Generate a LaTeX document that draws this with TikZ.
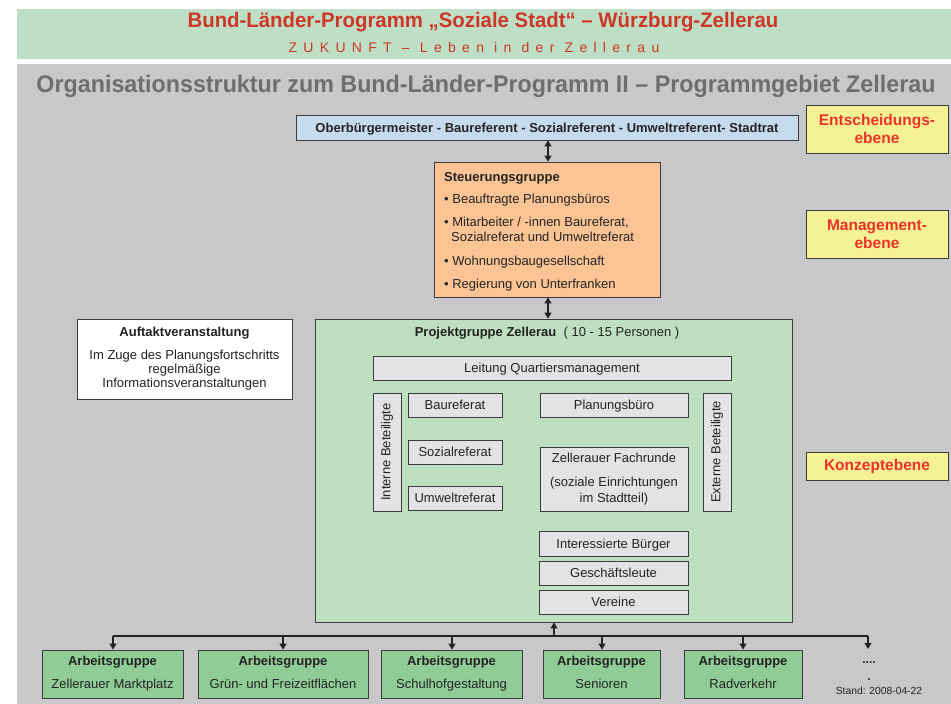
\documentclass[tikz,border=0pt]{standalone}
\usepackage{fontspec}
\setmainfont{Liberation Sans}
\newfontfamily\spacedfont[LetterSpace=45]{Liberation Sans}
\usetikzlibrary{arrows.meta}
\definecolor{bandgreen}{RGB}{190,222,197}
\definecolor{bggray}{RGB}{200,200,202}
\definecolor{titlegray}{RGB}{110,110,112}
\definecolor{titlered}{RGB}{205,55,40}
\definecolor{levelred}{RGB}{238,50,40}
\definecolor{blue1}{RGB}{198,219,238}
\definecolor{orange1}{RGB}{252,196,148}
\definecolor{yellow1}{RGB}{245,242,150}
\definecolor{projgreen}{RGB}{190,224,192}
\definecolor{innergray}{RGB}{226,227,228}
\definecolor{aggreen}{RGB}{144,205,150}
\definecolor{bd}{RGB}{60,60,60}
\definecolor{txt}{RGB}{35,35,35}
\begin{document}
\begin{tikzpicture}[x=1pt,y=-1pt,
  bx/.style={draw=bd, line width=0.9pt, inner sep=0pt, align=center, text=txt},
  lvl/.style={bx, fill=yellow1, text=levelred, minimum width=142pt, font=\bfseries\fontsize{15.5}{18.5}\selectfont},
  inner/.style={bx, fill=innergray, font=\fontsize{13}{15}\selectfont},
  oneline/.style={text height=9.8pt, text depth=0.5pt},
  ag/.style={bx, fill=aggreen, minimum height=48pt, font=\fontsize{13}{15}\selectfont},
  otxt/.style={anchor=base west, inner sep=0pt, text=txt, font=\fontsize{13}{15}\selectfont},
  conn/.style={draw=txt, line width=1.1pt},
  tip/.style={-{Triangle[length=6pt,width=7pt]}},
  dtip/.style={{Triangle[length=6pt,width=7pt]}-{Triangle[length=6pt,width=7pt]}}
]
\useasboundingbox (0,0) rectangle (951,704);
\fill[white] (0,0) rectangle (951,704);
% header band
\fill[bandgreen] (17,9) rectangle (951,59);
\fill[bggray] (17,64) rectangle (951,704);
\node[text=titlered, font=\bfseries\fontsize{21}{24}\selectfont, inner sep=0pt] (head1) at (483,22) {\scalebox{0.97}[1]{Bund-Länder-Programm „Soziale Stadt“ – Würzburg-Zellerau}};
\node[text=titlered, font=\fontsize{14}{16}\selectfont, inner sep=0pt] (head2) at (474,47) {\spacedfont ZUKUNFT – Leben in der Zellerau};
\node[text=titlegray, font=\bfseries\fontsize{24}{26}\selectfont, inner sep=0pt] (head3) at (486,86) {\scalebox{0.97}[1]{Organisationsstruktur zum Bund-Länder-Programm II – Programmgebiet Zellerau}};

% level labels
\node[lvl, minimum height=48pt] (entsch) at (877,129) {Entscheidungs-\\ebene};
\node[lvl, minimum height=48pt] (mgmt) at (877,234) {Management-\\ebene};
\node[lvl, oneline, minimum height=28pt] (konz) at (877,466) {Konzeptebene};

% top boxes
\node[bx, oneline, fill=blue1, minimum width=502pt, minimum height=25pt, font=\bfseries\fontsize{13}{15}\selectfont] (ober) at (547,127.5) {Oberbürgermeister - Baureferent - Sozialreferent - Umweltreferent- Stadtrat};
\node[bx, fill=orange1, minimum width=226pt, minimum height=135pt] (steuer) at (547,229.5) {};
\node[otxt, font=\bfseries\fontsize{13}{15}\selectfont] (st0) at (444,181) {Steuerungsgruppe};
\node[otxt] (st1) at (444,203) {• Beauftragte Planungsbüros};
\node[otxt] (st2) at (444,226) {• Mitarbeiter / -innen Baureferat,};
\node[otxt] (st2b) at (451,241) {Sozialreferat und Umweltreferat};
\node[otxt] (st3) at (444,265) {• Wohnungsbaugesellschaft};
\node[otxt] (st4) at (444,288) {• Regierung von Unterfranken};

% Auftakt
\node[bx, fill=white, minimum width=215pt, minimum height=80pt, font=\fontsize{13}{14}\selectfont] (auftakt) at (184.5,359) {\textbf{Auftaktveranstaltung}\\[9pt]Im Zuge des Planungsfortschritts\\regelmäßige\\Informationsveranstaltungen};

% Projektgruppe
\node[bx, fill=projgreen, minimum width=477pt, minimum height=303pt] (proj) at (553.5,470.5) {};
\node[inner sep=0pt, text=txt, font=\fontsize{13}{15}\selectfont] (projtitle) at (547,333) {\textbf{Projektgruppe Zellerau}\ \ ( 10 - 15 Personen )};
\node[inner, oneline, minimum width=358pt, minimum height=24pt] (leitung) at (552,368) {Leitung Quartiersmanagement};
\node[inner, minimum width=28pt, minimum height=118pt] (interne) at (387,452) {\rotatebox{90}{Interne Beteiligte}};
\node[inner, oneline, minimum width=94pt, minimum height=24pt] (bau) at (455,405) {Baureferat};
\node[inner, oneline, minimum width=94pt, minimum height=24pt] (sozial) at (455,452) {Sozialreferat};
\node[inner, oneline, minimum width=94pt, minimum height=24pt] (umwelt) at (455,498) {Umweltreferat};
\node[inner, oneline, minimum width=148pt, minimum height=24pt] (planung) at (614,405) {Planungsbüro};
\node[inner, minimum width=148pt, minimum height=64pt, font=\fontsize{13}{16}\selectfont] (fach) at (614,479) {Zellerauer Fachrunde\\[8pt](soziale Einrichtungen\\im Stadtteil)};
\node[inner, minimum width=28pt, minimum height=118pt] (externe) at (717,452) {\rotatebox{90}{Externe Beteiligte}};
\node[inner, oneline, minimum width=149pt, minimum height=25pt] (buerger) at (613.5,543.5) {Interessierte Bürger};
\node[inner, oneline, minimum width=149pt, minimum height=24pt] (gesch) at (613.5,573) {Geschäftsleute};
\node[inner, oneline, minimum width=149pt, minimum height=24pt] (vereine) at (613.5,602) {Vereine};

% Arbeitsgruppen
\node[ag, minimum width=141pt] (ag1) at (112.5,674) {\strut\textbf{Arbeitsgruppe}\\[8pt]\strut Zellerauer Marktplatz};
\node[ag, minimum width=170pt] (ag2) at (283,674) {\strut\textbf{Arbeitsgruppe}\\[8pt]\strut Grün- und Freizeitflächen};
\node[ag, minimum width=141pt] (ag3) at (451.5,674) {\strut\textbf{Arbeitsgruppe}\\[8pt]\strut Schulhofgestaltung};
\node[ag, minimum width=117pt] (ag4) at (601.5,674) {\strut\textbf{Arbeitsgruppe}\\[8pt]\strut Senioren};
\node[ag, minimum width=118pt] (ag5) at (743,674) {\strut\textbf{Arbeitsgruppe}\\[8pt]\strut Radverkehr};
\node[inner sep=0pt, text=txt, font=\bfseries\fontsize{12}{13}\selectfont] (dots) at (869,663) {....};
\node[inner sep=0pt, text=txt, font=\bfseries\fontsize{12}{13}\selectfont] (dot) at (869,680) {.};
\node[inner sep=0pt, text=txt, font=\fontsize{10.3}{12}\selectfont] (stand) at (879,691) {Stand: 2008-04-22};
\coordinate (dotsTop) at (868,649);

% connectors
\draw[conn, dtip] (ober.south -| 548,0) -- (steuer.north -| 548,0);
\draw[conn, dtip] (steuer.south -| 548,0) -- (proj.north -| 548,0);
\coordinate (busL) at (113,636);
\coordinate (busR) at (868,636);
\coordinate (bus) at (554,636);
\draw[conn] (busL) -- (busR);
\draw[conn, tip] (bus) -- (proj.south -| bus);
\draw[conn, tip] (busL) -- (ag1.north -| busL);
\draw[conn, tip] (ag2.north |- bus) -- (ag2.north);
\draw[conn, tip] (452,636) -- (ag3.north -| 452,0);
\draw[conn, tip] (602,636) -- (ag4.north -| 602,0);
\draw[conn, tip] (ag5.north |- bus) -- (ag5.north);
\draw[conn, tip] (busR) -- (dotsTop);
\end{tikzpicture}
\end{document}
